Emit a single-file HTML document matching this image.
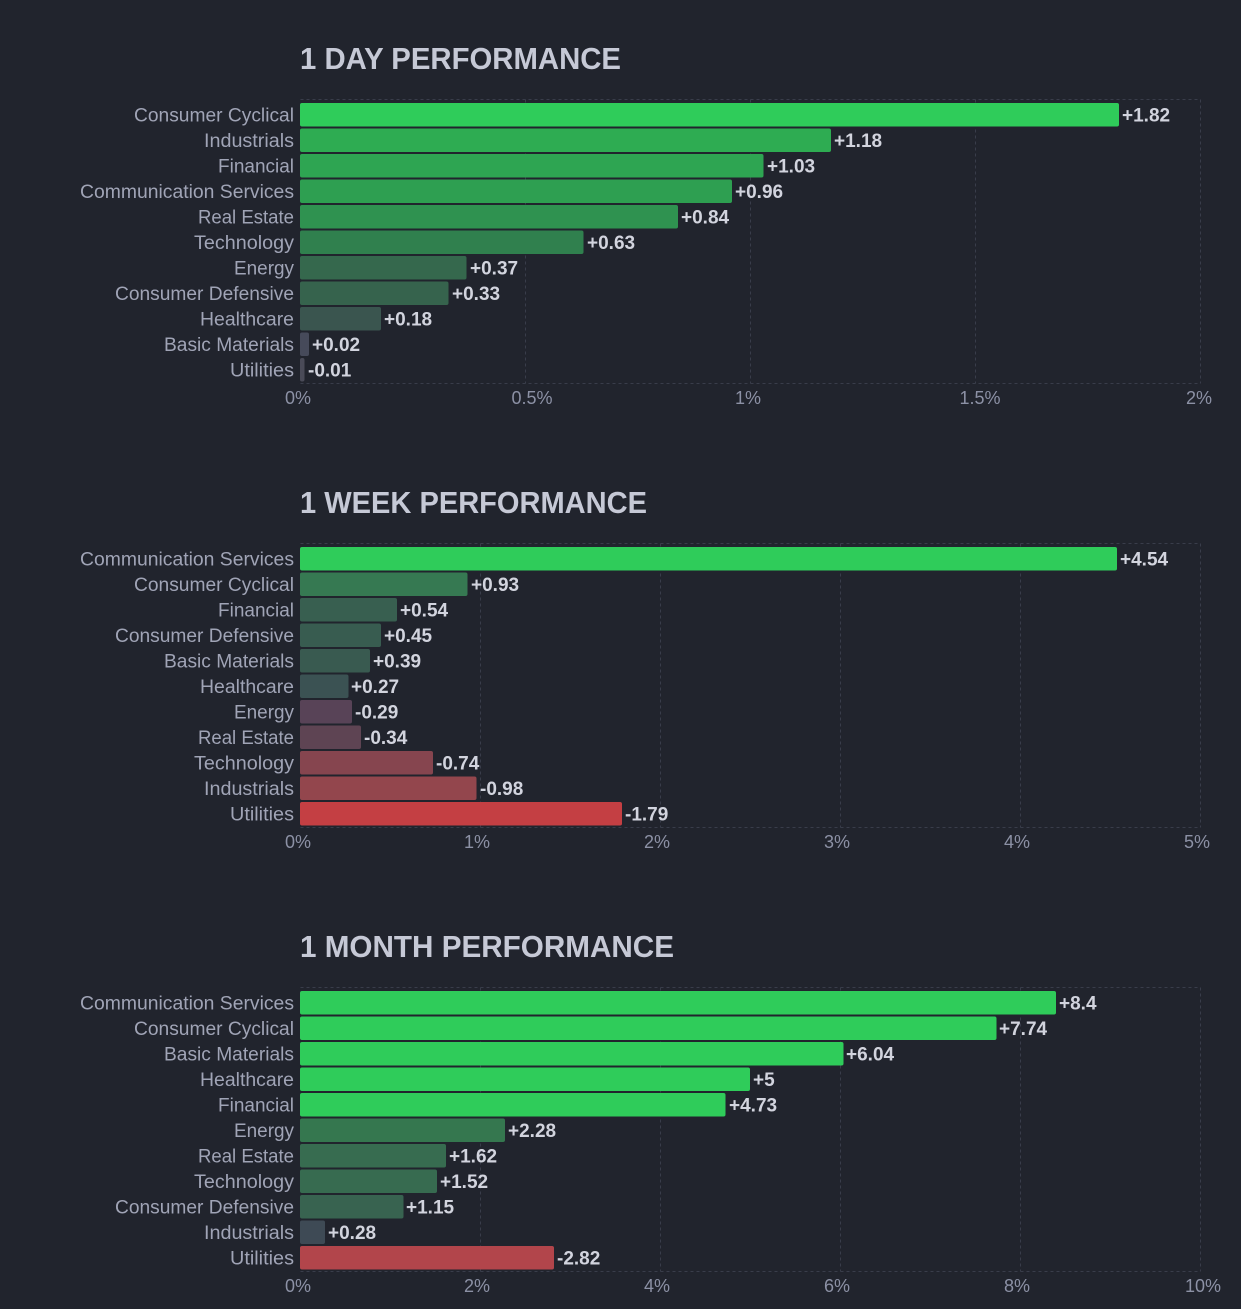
<!DOCTYPE html>
<html><head><meta charset="utf-8"><style>
html,body{margin:0;padding:0;background:#21242d;}
svg{display:block;}
text{font-family:"Liberation Sans",sans-serif;}
.t{font-weight:bold;font-size:31px;fill:#c6c9d6;}
.l{font-size:19px;fill:#a0a4b6;text-anchor:end;}
.v{font-size:19px;font-weight:bold;fill:#d2d4de;}
.k{font-size:18px;fill:#8c91a5;text-anchor:middle;}
.g{stroke:#393d4a;stroke-width:1;stroke-dasharray:3,3;fill:none;}
</style></head><body>
<svg width="1241" height="1309" viewBox="0 0 1241 1309" xmlns="http://www.w3.org/2000/svg">
<rect width="1241" height="1309" fill="#21242d"/>

<!-- ===== CHART 1 ===== -->
<g>
<text class="t" x="300" y="69" textLength="321" lengthAdjust="spacingAndGlyphs">1 DAY PERFORMANCE</text>
<path class="g" d="M300.5 99.5H1200.5M300.5 383.5H1200.5M525.5 99.5V383.5M750.5 99.5V383.5M975.5 99.5V383.5M1200.5 99.5V383.5"/>
<rect x="300" y="103" width="819" height="23.5" rx="2" fill="#2fcc5a"/>
<rect x="300" y="128.5" width="531" height="23.5" rx="2" fill="#2eac52"/>
<rect x="300" y="154" width="463.5" height="23.5" rx="2" fill="#2ea552"/>
<rect x="300" y="179.5" width="432" height="23.5" rx="2" fill="#2e9f51"/>
<rect x="300" y="205" width="378" height="23.5" rx="2" fill="#2f9250"/>
<rect x="300" y="230.5" width="283.5" height="23.5" rx="2" fill="#30804e"/>
<rect x="300" y="256" width="166.5" height="23.5" rx="2" fill="#35684d"/>
<rect x="300" y="281.5" width="148.5" height="23.5" rx="2" fill="#36634d"/>
<rect x="300" y="307" width="81" height="23.5" rx="2" fill="#3a554f"/>
<rect x="300" y="332.5" width="9" height="23.5" rx="2" fill="#464a5a"/>
<rect x="300" y="358" width="4.5" height="23.5" rx="2" fill="#4a4b58"/>
<text class="l" x="294" y="121.5" textLength="160" lengthAdjust="spacingAndGlyphs">Consumer Cyclical</text>
<text class="l" x="294" y="147" textLength="90" lengthAdjust="spacingAndGlyphs">Industrials</text>
<text class="l" x="294" y="172.5" textLength="76" lengthAdjust="spacingAndGlyphs">Financial</text>
<text class="l" x="294" y="198" textLength="214" lengthAdjust="spacingAndGlyphs">Communication Services</text>
<text class="l" x="294" y="223.5" textLength="96" lengthAdjust="spacingAndGlyphs">Real Estate</text>
<text class="l" x="294" y="249" textLength="100" lengthAdjust="spacingAndGlyphs">Technology</text>
<text class="l" x="294" y="274.5" textLength="60" lengthAdjust="spacingAndGlyphs">Energy</text>
<text class="l" x="294" y="300" textLength="179" lengthAdjust="spacingAndGlyphs">Consumer Defensive</text>
<text class="l" x="294" y="325.5" textLength="94" lengthAdjust="spacingAndGlyphs">Healthcare</text>
<text class="l" x="294" y="351" textLength="130" lengthAdjust="spacingAndGlyphs">Basic Materials</text>
<text class="l" x="294" y="376.5" textLength="64" lengthAdjust="spacingAndGlyphs">Utilities</text>
<text class="v" x="1122" y="121.5">+1.82</text>
<text class="v" x="834" y="147">+1.18</text>
<text class="v" x="767" y="172.5">+1.03</text>
<text class="v" x="735" y="198">+0.96</text>
<text class="v" x="681" y="223.5">+0.84</text>
<text class="v" x="587" y="249">+0.63</text>
<text class="v" x="470" y="274.5">+0.37</text>
<text class="v" x="452" y="300">+0.33</text>
<text class="v" x="384" y="325.5">+0.18</text>
<text class="v" x="312" y="351">+0.02</text>
<text class="v" x="308" y="376.5">-0.01</text>
<text class="k" x="298" y="404">0%</text>
<text class="k" x="532" y="404">0.5%</text>
<text class="k" x="748" y="404">1%</text>
<text class="k" x="980" y="404">1.5%</text>
<text class="k" x="1199" y="404">2%</text>
</g>

<!-- ===== CHART 2 ===== -->
<g>
<text class="t" x="300" y="513" textLength="347" lengthAdjust="spacingAndGlyphs">1 WEEK PERFORMANCE</text>
<path class="g" d="M300.5 543.5H1200.5M300.5 827.5H1200.5M480.5 543.5V827.5M660.5 543.5V827.5M840.5 543.5V827.5M1020.5 543.5V827.5M1200.5 543.5V827.5"/>
<rect x="300" y="547" width="817" height="23.5" rx="2" fill="#2fcc5a"/>
<rect x="300" y="572.5" width="167.5" height="23.5" rx="2" fill="#367952"/>
<rect x="300" y="598" width="97" height="23.5" rx="2" fill="#385f50"/>
<rect x="300" y="623.5" width="81" height="23.5" rx="2" fill="#385c50"/>
<rect x="300" y="649" width="70" height="23.5" rx="2" fill="#395a50"/>
<rect x="300" y="674.5" width="48.5" height="23.5" rx="2" fill="#3b5253"/>
<rect x="300" y="700" width="52" height="23.5" rx="2" fill="#584357"/>
<rect x="300" y="725.5" width="61" height="23.5" rx="2" fill="#5e4453"/>
<rect x="300" y="751" width="133" height="23.5" rx="2" fill="#86454f"/>
<rect x="300" y="776.5" width="176.5" height="23.5" rx="2" fill="#93464d"/>
<rect x="300" y="802" width="322" height="23.5" rx="2" fill="#c43f43"/>
<text class="l" x="294" y="565.5" textLength="214" lengthAdjust="spacingAndGlyphs">Communication Services</text>
<text class="l" x="294" y="591" textLength="160" lengthAdjust="spacingAndGlyphs">Consumer Cyclical</text>
<text class="l" x="294" y="616.5" textLength="76" lengthAdjust="spacingAndGlyphs">Financial</text>
<text class="l" x="294" y="642" textLength="179" lengthAdjust="spacingAndGlyphs">Consumer Defensive</text>
<text class="l" x="294" y="667.5" textLength="130" lengthAdjust="spacingAndGlyphs">Basic Materials</text>
<text class="l" x="294" y="693" textLength="94" lengthAdjust="spacingAndGlyphs">Healthcare</text>
<text class="l" x="294" y="718.5" textLength="60" lengthAdjust="spacingAndGlyphs">Energy</text>
<text class="l" x="294" y="744" textLength="96" lengthAdjust="spacingAndGlyphs">Real Estate</text>
<text class="l" x="294" y="769.5" textLength="100" lengthAdjust="spacingAndGlyphs">Technology</text>
<text class="l" x="294" y="795" textLength="90" lengthAdjust="spacingAndGlyphs">Industrials</text>
<text class="l" x="294" y="820.5" textLength="64" lengthAdjust="spacingAndGlyphs">Utilities</text>
<text class="v" x="1120" y="565.5">+4.54</text>
<text class="v" x="471" y="591">+0.93</text>
<text class="v" x="400" y="616.5">+0.54</text>
<text class="v" x="384" y="642">+0.45</text>
<text class="v" x="373" y="667.5">+0.39</text>
<text class="v" x="351" y="693">+0.27</text>
<text class="v" x="355" y="718.5">-0.29</text>
<text class="v" x="364" y="744">-0.34</text>
<text class="v" x="436" y="769.5">-0.74</text>
<text class="v" x="480" y="795">-0.98</text>
<text class="v" x="625" y="820.5">-1.79</text>
<text class="k" x="298" y="848">0%</text>
<text class="k" x="477" y="848">1%</text>
<text class="k" x="657" y="848">2%</text>
<text class="k" x="837" y="848">3%</text>
<text class="k" x="1017" y="848">4%</text>
<text class="k" x="1197" y="848">5%</text>
</g>

<!-- ===== CHART 3 ===== -->
<g>
<text class="t" x="300" y="957" textLength="374" lengthAdjust="spacingAndGlyphs">1 MONTH PERFORMANCE</text>
<path class="g" d="M300.5 987.5H1200.5M300.5 1271.5H1200.5M480.5 987.5V1271.5M660.5 987.5V1271.5M840.5 987.5V1271.5M1020.5 987.5V1271.5M1200.5 987.5V1271.5"/>
<rect x="300" y="991" width="756" height="23.5" rx="2" fill="#2fcc5a"/>
<rect x="300" y="1016.5" width="696.5" height="23.5" rx="2" fill="#2fcc5a"/>
<rect x="300" y="1042" width="543.5" height="23.5" rx="2" fill="#2fcc5a"/>
<rect x="300" y="1067.5" width="450" height="23.5" rx="2" fill="#2fcc5a"/>
<rect x="300" y="1093" width="425.5" height="23.5" rx="2" fill="#2fcc5a"/>
<rect x="300" y="1118.5" width="205" height="23.5" rx="2" fill="#35774f"/>
<rect x="300" y="1144" width="146" height="23.5" rx="2" fill="#376c50"/>
<rect x="300" y="1169.5" width="137" height="23.5" rx="2" fill="#376b50"/>
<rect x="300" y="1195" width="103.5" height="23.5" rx="2" fill="#386350"/>
<rect x="300" y="1220.5" width="25" height="23.5" rx="2" fill="#3e4a55"/>
<rect x="300" y="1246" width="254" height="23.5" rx="2" fill="#b2454b"/>
<text class="l" x="294" y="1009.5" textLength="214" lengthAdjust="spacingAndGlyphs">Communication Services</text>
<text class="l" x="294" y="1035" textLength="160" lengthAdjust="spacingAndGlyphs">Consumer Cyclical</text>
<text class="l" x="294" y="1060.5" textLength="130" lengthAdjust="spacingAndGlyphs">Basic Materials</text>
<text class="l" x="294" y="1086" textLength="94" lengthAdjust="spacingAndGlyphs">Healthcare</text>
<text class="l" x="294" y="1111.5" textLength="76" lengthAdjust="spacingAndGlyphs">Financial</text>
<text class="l" x="294" y="1137" textLength="60" lengthAdjust="spacingAndGlyphs">Energy</text>
<text class="l" x="294" y="1162.5" textLength="96" lengthAdjust="spacingAndGlyphs">Real Estate</text>
<text class="l" x="294" y="1188" textLength="100" lengthAdjust="spacingAndGlyphs">Technology</text>
<text class="l" x="294" y="1213.5" textLength="179" lengthAdjust="spacingAndGlyphs">Consumer Defensive</text>
<text class="l" x="294" y="1239" textLength="90" lengthAdjust="spacingAndGlyphs">Industrials</text>
<text class="l" x="294" y="1264.5" textLength="64" lengthAdjust="spacingAndGlyphs">Utilities</text>
<text class="v" x="1059" y="1009.5">+8.4</text>
<text class="v" x="999" y="1035">+7.74</text>
<text class="v" x="846" y="1060.5">+6.04</text>
<text class="v" x="753" y="1086">+5</text>
<text class="v" x="729" y="1111.5">+4.73</text>
<text class="v" x="508" y="1137">+2.28</text>
<text class="v" x="449" y="1162.5">+1.62</text>
<text class="v" x="440" y="1188">+1.52</text>
<text class="v" x="406" y="1213.5">+1.15</text>
<text class="v" x="328" y="1239">+0.28</text>
<text class="v" x="557" y="1264.5">-2.82</text>
<text class="k" x="298" y="1292">0%</text>
<text class="k" x="477" y="1292">2%</text>
<text class="k" x="657" y="1292">4%</text>
<text class="k" x="837" y="1292">6%</text>
<text class="k" x="1017" y="1292">8%</text>
<text class="k" x="1203" y="1292">10%</text>
</g>
</svg>
</body></html>
